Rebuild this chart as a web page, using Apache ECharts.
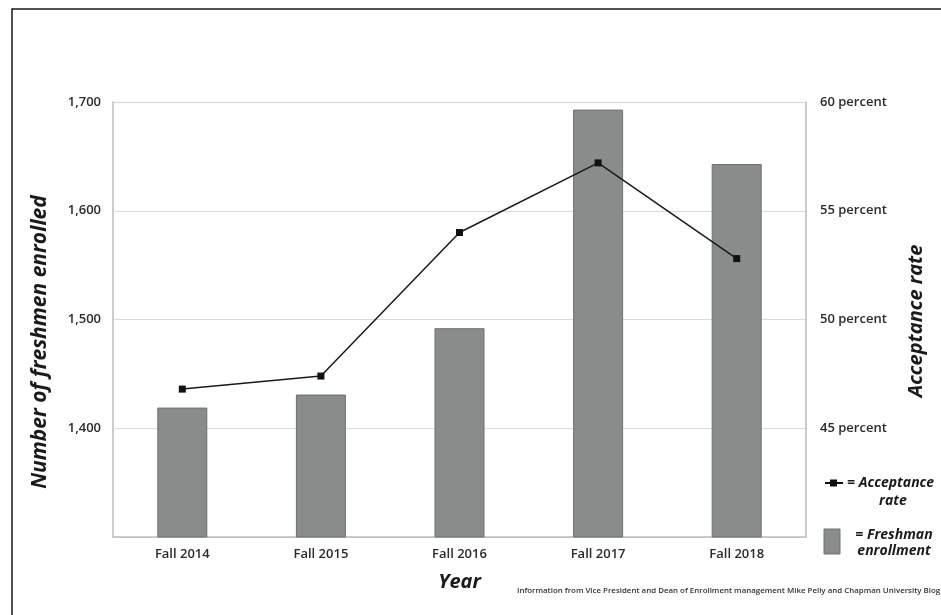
<!DOCTYPE html>
<html><head><meta charset="utf-8">
<script src="https://cdn.jsdelivr.net/npm/echarts@6/dist/echarts.min.js"></script>
<style>html,body{margin:0;padding:0;background:#fff}#c{width:941px;height:615px}</style>
</head><body><div id="c"></div>
<script>
const categories = ["Fall 2014", "Fall 2015", "Fall 2016", "Fall 2017", "Fall 2018"];
const enrollment = [1419, 1431, 1492, 1693, 1643];
const acceptance = [46.8, 47.4, 54.0, 57.2, 52.8];
const leftTicks = { min: 1300, max: 1700, interval: 100 };
const rightTicks = { min: 40, max: 60, interval: 5 };

const FONT = '"Open Sans", "Noto Sans", sans-serif';
const chart = echarts.init(document.getElementById('c'), null, { renderer: 'canvas' });
chart.setOption({
  animation: false,
  backgroundColor: '#fff',
  grid: { left: 113, right: 135, top: 102, bottom: 78, containLabel: false },
  xAxis: {
    type: 'category', data: categories,
    axisLine: { lineStyle: { color: '#bdbdbd', width: 1.5 } },
    axisTick: { show: false },
    axisLabel: { color: '#2a2a2a', fontFamily: FONT, fontSize: 13, fontWeight: 600, margin: 11 },
    name: 'Year', nameLocation: 'middle', nameGap: 35,
    nameTextStyle: { fontFamily: FONT, fontSize: 20, fontWeight: 'bold', fontStyle: 'italic', color: '#1a1a1a' }
  },
  yAxis: [
    {
      type: 'value', min: leftTicks.min, max: leftTicks.max, interval: leftTicks.interval,
      axisLine: { show: true, lineStyle: { color: '#bdbdbd', width: 1.5 } },
      axisTick: { show: false },
      splitLine: { lineStyle: { color: '#d9d9d9', width: 1.2 } },
      axisLabel: {
        color: '#2a2a2a', fontFamily: FONT, fontSize: 13, fontWeight: 600, margin: 12,
        formatter: v => v === leftTicks.min ? '' : v.toLocaleString('en-US')
      }
    },
    {
      type: 'value', min: rightTicks.min, max: rightTicks.max, interval: rightTicks.interval,
      axisLine: { show: true, lineStyle: { color: '#bdbdbd', width: 1.5 } },
      axisTick: { show: false },
      splitLine: { show: false },
      axisLabel: {
        color: '#2a2a2a', fontFamily: FONT, fontSize: 13, fontWeight: 600, margin: 14,
        formatter: v => v === rightTicks.min ? '' : v + ' percent'
      }
    }
  ],
  series: [
    {
      type: 'bar', data: enrollment, yAxisIndex: 0, barWidth: 50,
      itemStyle: { color: '#8a8c8c', borderColor: '#6e7070', borderWidth: 1 }
    },
    {
      type: 'line', data: acceptance, yAxisIndex: 1,
      symbol: 'rect', symbolSize: 7,
      lineStyle: { color: '#1a1a1a', width: 1.5 },
      itemStyle: { color: '#111' }
    }
  ],
  graphic: [
    { type: 'rect', shape: { x: 12, y: 9, width: 960, height: 640 }, style: { fill: 'none', stroke: '#1a1a1a', lineWidth: 1.5 }, silent: true },
    { type: 'text', x: 40, y: 342, rotation: Math.PI / 2,
      style: { text: 'Number of freshmen enrolled', font: 'italic bold 21px ' + FONT, fill: '#1a1a1a', align: 'center', verticalAlign: 'middle' } },
    { type: 'text', x: 916, y: 321, rotation: Math.PI / 2,
      style: { text: 'Acceptance rate', font: 'italic bold 20px ' + FONT, fill: '#1a1a1a', align: 'center', verticalAlign: 'middle' } },
    { type: 'line', shape: { x1: 825, y1: 483, x2: 843, y2: 483 }, style: { stroke: '#111', lineWidth: 2 } },
    { type: 'rect', shape: { x: 830, y: 479.5, width: 7, height: 7 }, style: { fill: '#111' } },
    { type: 'text', x: 847, y: 483, style: { text: '= Acceptance', font: 'italic bold 14px ' + FONT, fill: '#1a1a1a', verticalAlign: 'middle' } },
    { type: 'text', x: 893, y: 501, style: { text: 'rate', font: 'italic bold 14px ' + FONT, fill: '#1a1a1a', align: 'center', verticalAlign: 'middle' } },
    { type: 'rect', shape: { x: 824, y: 529, width: 16, height: 25 }, style: { fill: '#8a8c8c', stroke: '#6e7070', lineWidth: 1 } },
    { type: 'text', x: 894, y: 535, style: { text: '= Freshman', font: 'italic bold 14px ' + FONT, fill: '#1a1a1a', align: 'center', verticalAlign: 'middle' } },
    { type: 'text', x: 894, y: 551, style: { text: 'enrollment', font: 'italic bold 14px ' + FONT, fill: '#1a1a1a', align: 'center', verticalAlign: 'middle' } },
    { type: 'text', x: 517, y: 591, style: { text: 'Information from Vice President and Dean of Enrollment management Mike Pelly and Chapman University Blog', font: '600 7.9px ' + FONT, fill: '#333', verticalAlign: 'middle' } }
  ]
});
</script>
</body></html>
